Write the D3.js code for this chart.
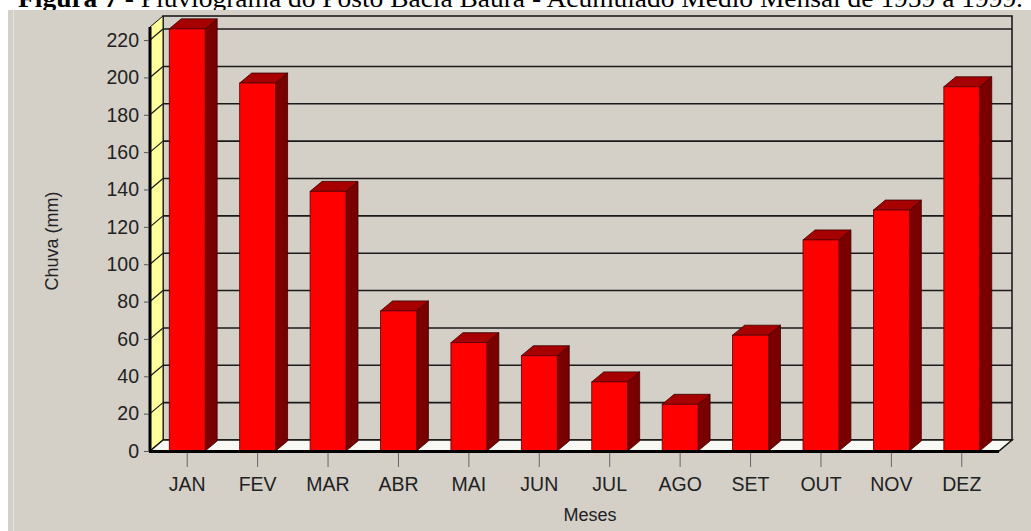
<!DOCTYPE html>
<html><head><meta charset="utf-8">
<script src="https://cdn.jsdelivr.net/npm/d3@7"></script>
<style>html,body{margin:0;padding:0;background:#fff;overflow:hidden}</style>
</head><body>
<svg id="c" width="1031" height="531"></svg>
<script>
const months = ["JAN","FEV","MAR","ABR","MAI","JUN","JUL","AGO","SET","OUT","NOV","DEZ"];
const rain = [226, 197, 139, 75, 58, 51, 37, 25, 62, 113, 129, 195];
const yTicks = [0,20,40,60,80,100,120,140,160,180,200,220];
const caption = "Figura 7 - Pluviograma do Posto Bacia Baúra - Acumulado Médio Mensal de 1959 a 1999.";

const svg = d3.select("#c");
const W = 1031, H = 531;
const wdx = 13, wdy = -11;   // wall depth
const bdx = 12, bdy = -10;   // bar depth
const left = 150, right = 999;

const y = d3.scaleLinear().domain([0, 227]).range([451, 27]);
const x = d3.scaleBand().domain(months).range([152, 997]).paddingInner(0.49).paddingOuter(0.245);

// caption (clipped at top, as in the reference)
const cap = svg.append("text").attr("x", 18).attr("y", 7)
  .attr("font-family", "Liberation Serif, Times New Roman, serif").attr("font-size", 25)
  .attr("fill", "#000").attr("textLength", 1005).attr("lengthAdjust", "spacingAndGlyphs");
cap.append("tspan").attr("font-weight", "bold").text("Figura 7");
cap.append("tspan").text(caption.slice(8));

// gray panel
svg.append("rect").attr("x", 8).attr("y", 10).attr("width", W - 8).attr("height", H - 10).attr("fill", "#d4d0c8");
svg.append("line").attr("x1", 13.5).attr("x2", 13.5).attr("y1", 10).attr("y2", H).attr("stroke", "#e4e2dc").attr("stroke-width", 1);

const y0 = y(0), yTop = y(227);

// back wall
svg.append("rect").attr("x", left + wdx).attr("y", yTop + wdy).attr("width", right - left).attr("height", y0 - yTop)
  .attr("fill", "#d4d0c8").attr("stroke", "#111").attr("stroke-width", 1.5);

// left wall
svg.append("path").attr("d", `M${left},${y0}L${left},${yTop}L${left + wdx},${yTop + wdy}L${left + wdx},${y0 + wdy}Z`)
  .attr("fill", "#ffff9c").attr("stroke", "#111").attr("stroke-width", 1);

// floor
svg.append("path").attr("d", `M${left},${y0}L${right},${y0}L${right + wdx},${y0 + wdy}L${left + wdx},${y0 + wdy}Z`)
  .attr("fill", "#f8f8f4").attr("stroke", "#111").attr("stroke-width", 1.5);

// grid lines
yTicks.filter(t => t > 0).forEach(t => {
  const yy = y(t);
  svg.append("line").attr("x1", left + wdx).attr("x2", right + wdx).attr("y1", yy + wdy).attr("y2", yy + wdy)
    .attr("stroke", "#1a1a1a").attr("stroke-width", 1.6);
  svg.append("line").attr("x1", left).attr("x2", left + wdx).attr("y1", yy).attr("y2", yy + wdy)
    .attr("stroke", "#1a1a1a").attr("stroke-width", 1.2);
});

// bars
const bw = x.bandwidth();
const g = svg.append("g");
months.forEach((m, i) => {
  const x0 = x(m), x1 = x0 + bw, yt = y(rain[i]);
  g.append("path").attr("d", `M${x1},${y0}L${x1},${yt}L${x1 + bdx},${yt + bdy}L${x1 + bdx},${y0 + bdy}Z`)
    .attr("fill", "#7a0000").attr("stroke", "#3a0000").attr("stroke-width", 0.8);
  g.append("path").attr("d", `M${x0},${yt}L${x1},${yt}L${x1 + bdx},${yt + bdy}L${x0 + bdx},${yt + bdy}Z`)
    .attr("fill", "#a60000").attr("stroke", "#3a0000").attr("stroke-width", 0.8);
  g.append("rect").attr("x", x0).attr("y", yt).attr("width", bw).attr("height", y0 - yt)
    .attr("fill", "#ff0000").attr("stroke", "#5a0000").attr("stroke-width", 0.8);
});

// front axis lines
svg.append("line").attr("x1", left).attr("x2", left).attr("y1", yTop).attr("y2", y0 + 1)
  .attr("stroke", "#000").attr("stroke-width", 3);
svg.append("line").attr("x1", left - 1).attr("x2", right).attr("y1", y0 + 0.5).attr("y2", y0 + 0.5)
  .attr("stroke", "#000").attr("stroke-width", 3);

// y axis
const yAxis = d3.axisLeft(y).tickValues(yTicks).tickSize(5).tickPadding(5);
const ya = svg.append("g").attr("transform", `translate(${left - 1},0)`).call(yAxis);
ya.select(".domain").remove();
ya.selectAll("line").attr("stroke", "#555");
ya.selectAll("text").attr("font-family", "Liberation Sans, Arial, sans-serif").attr("font-size", 19.5).attr("fill", "#222");

// x axis
const xAxis = d3.axisBottom(x).tickSize(14).tickPadding(10);
const xa = svg.append("g").attr("transform", `translate(0,${y0 + 2})`).call(xAxis);
xa.select(".domain").remove();
xa.selectAll("line").attr("stroke", "#666");
xa.selectAll("text").attr("font-family", "Liberation Sans, Arial, sans-serif").attr("font-size", 19.5).attr("fill", "#222");

// axis titles
svg.append("text").attr("x", 590).attr("y", 521).attr("text-anchor", "middle")
  .attr("font-family", "Liberation Sans, Arial, sans-serif").attr("font-size", 18).attr("fill", "#222").text("Meses");
svg.append("text").attr("transform", "translate(58,241) rotate(-90)").attr("text-anchor", "middle")
  .attr("font-family", "Liberation Sans, Arial, sans-serif").attr("font-size", 18).attr("fill", "#222").text("Chuva (mm)");
</script>
</body></html>
